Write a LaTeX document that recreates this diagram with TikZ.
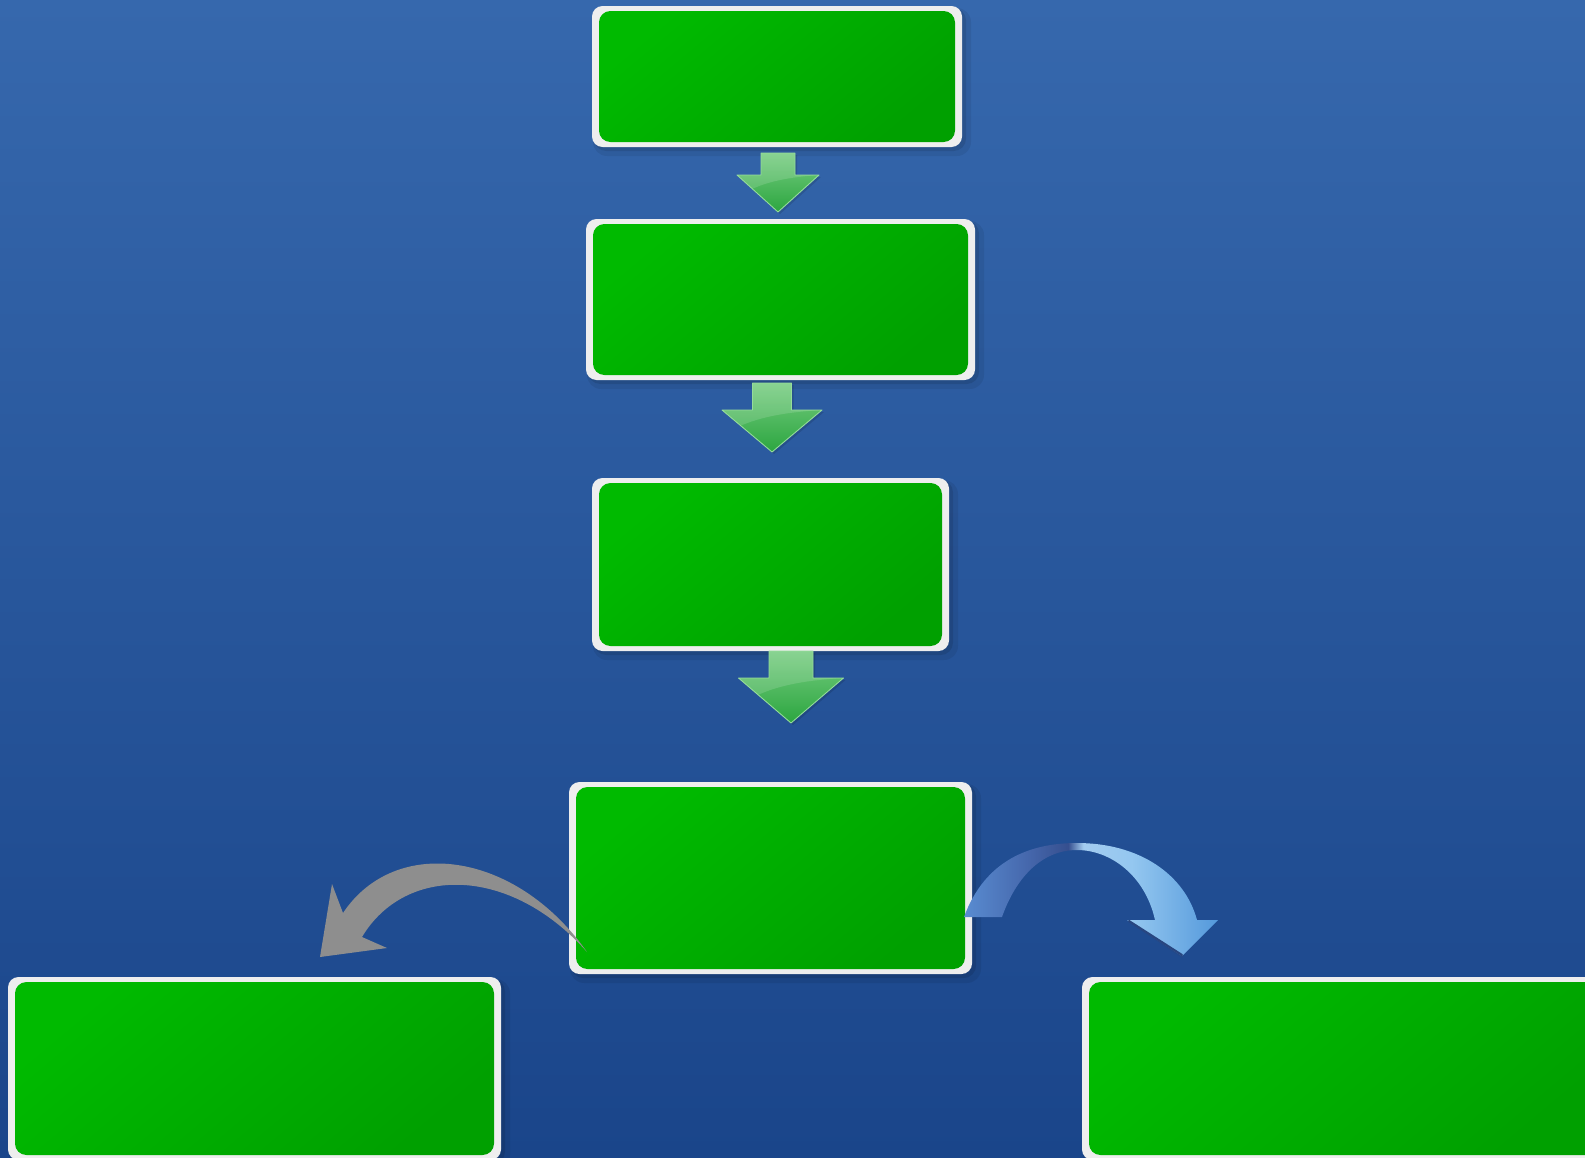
\documentclass[tikz,border=0pt]{standalone}
\usetikzlibrary{fit,positioning}
\definecolor{bgtop}{RGB}{54,104,173}
\definecolor{bgbot}{RGB}{26,69,138}
\definecolor{gA}{RGB}{0,186,0}
\definecolor{gB}{RGB}{0,160,0}
\definecolor{framecol}{RGB}{238,238,238}
\definecolor{arrLight}{RGB}{118,204,128}
\definecolor{arrDark}{RGB}{44,166,64}
\definecolor{arrEdge}{RGB}{150,220,155}
\definecolor{grayarr}{RGB}{142,142,142}
\definecolor{blD}{RGB}{40,70,128}
\pgfdeclarehorizontalshading{blueribbon}{100bp}{%
  rgb(0bp)=(0.35,0.55,0.82);
  rgb(25bp)=(0.35,0.55,0.82);
  rgb(38bp)=(0.27,0.40,0.67);
  rgb(45.5bp)=(0.21,0.31,0.56);
  rgb(48.5bp)=(0.64,0.80,0.94);
  rgb(58bp)=(0.58,0.78,0.94);
  rgb(75bp)=(0.33,0.60,0.86);
  rgb(100bp)=(0.33,0.60,0.86)}
\tikzset{
  frame box/.style={rectangle, rounded corners=6pt, fill=framecol, inner sep=0pt, draw=none},
  green shade/.style={rounded corners=6.5pt, top color=gA, bottom color=gB, shading angle=40},
}
% name, x1, y1, x2, y2
\newcommand\gbox[5]{%
  \fill[black,opacity=0.07,rounded corners=8pt] (#2+1,#3+2) rectangle (#4+9,#5+9);
  \fill[black,opacity=0.10,rounded corners=7pt] (#2+2,#3+2) rectangle (#4+4,#5+4);
  \node[frame box, fit={(#2,#3) (#4,#5)}] (#1) {};
  \shade[green shade] (#2+7,#3+5) rectangle (#4-7,#5-5);
}
% name, cx, top, shaft half width, head y, head half width, tip y
\newcommand\dnarrow[7]{%
  \fill[black,opacity=0.12] (#2-#4+2,#3+2) -- (#2+#4+2,#3+2) -- (#2+#4+2,#5+2) -- (#2+#6+2,#5+2) -- (#2+2,#7+2) -- (#2-#6+2,#5+2) -- (#2-#4+2,#5+2) -- cycle;
  \shade[top color=arrLight, bottom color=arrDark]
    (#2-#4,#3) -- (#2+#4,#3) -- (#2+#4,#5) -- (#2+#6,#5) -- (#2,#7) -- (#2-#6,#5) -- (#2-#4,#5) -- cycle;
  \begin{scope}
    \clip (#2-#4,#3) -- (#2+#4,#3) -- (#2+#4,#5) -- (#2+#6,#5) -- (#2,#7) -- (#2-#6,#5) -- (#2-#4,#5) -- cycle;
    \fill[white,opacity=0.14] (#2-#6,#3) -- (#2+#6,#3) -- (#2+#6,#5)
      .. controls (#2,#5+3) and ({#2-0.5*#6},{#5+0.25*(#7-#5)}) .. ({#2-#6},{#5+0.6*(#7-#5)}) -- cycle;
  \end{scope}
  \draw[arrEdge, line width=0.5pt, line join=round]
    (#2-#4,#3) -- (#2+#4,#3) -- (#2+#4,#5) -- (#2+#6,#5) -- (#2,#7) -- (#2-#6,#5) -- (#2-#4,#5) -- cycle;
  \coordinate (#1) at (#2,#7);
}
\begin{document}
\begin{tikzpicture}[x=0.02cm,y=-0.02cm]
\useasboundingbox (0,0) rectangle (1585,1157);
\shade[top color=bgtop, bottom color=bgbot] (0,0) rectangle (1585,1157);

\gbox{b1}{592}{6}{962}{147}
\gbox{b2}{586}{219}{975}{380}
\gbox{b3}{592}{478}{949}{651}
\gbox{b4}{569}{782}{972}{974}
\gbox{b5}{8}{977}{501}{1160}
\gbox{b6}{1082}{977}{1610}{1160}

\dnarrow{a1}{778}{153}{17}{175}{41}{212}
\dnarrow{a2}{772}{383}{19.5}{410}{50}{452}
\dnarrow{a3}{791}{651}{22}{678}{52.5}{723}

% gray curved arrow (to the left)
\coordinate (gtail) at (587,952);
\fill[grayarr] (gtail) .. controls (515,850) and (395,835) .. (343,913)
  -- (332,884) -- (320,957) -- (387,948) -- (362,937)
  .. controls (405,865) and (510,865) .. (gtail) -- cycle;

% blue curved arrow (to the right)
\coordinate (btail) at (964,917);
\fill[blD,opacity=0.35] (1129,922) -- (1182,958) -- (1184,955) -- cycle;
\shade[shading=blueribbon]
  (btail) .. controls (985,860) and (1030,843) .. (1077,843)
  .. controls (1140,843) and (1185,875) .. (1197,920)
  -- (1218,920) -- (1182,956) -- (1127,920) -- (1155,920)
  .. controls (1145,875) and (1110,850) .. (1077,850)
  .. controls (1040,850) and (1015,880) .. (1002,917) -- cycle;
\draw[blD,line width=1.2pt,line cap=round] (1129,921) -- (1182,955);
\end{tikzpicture}
\end{document}
